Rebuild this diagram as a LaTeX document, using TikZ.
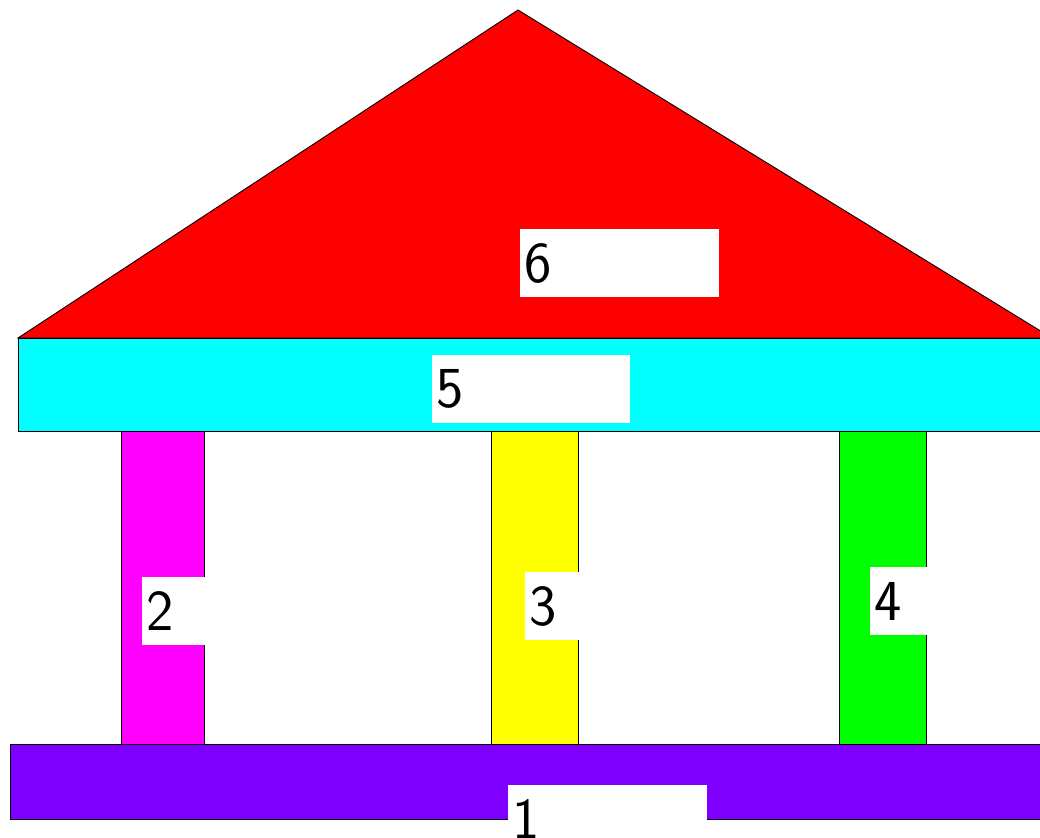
\documentclass[tikz,border=0pt]{standalone}
\usepackage{xcolor}
\usepackage{tikz}
\usetikzlibrary{positioning}
\definecolor{roofred}{RGB}{255,0,0}
\definecolor{friezecyan}{RGB}{0,255,255}
\definecolor{colmagenta}{RGB}{255,0,255}
\definecolor{colyellow}{RGB}{255,255,0}
\definecolor{colgreen}{RGB}{0,255,0}
\definecolor{plinthviolet}{RGB}{128,0,255}
\tikzstyle{part} = [draw=black, line width=0.9pt, line join=miter]
\tikzstyle{tag} = [fill=white, anchor=north west, inner xsep=4pt, inner ysep=0pt, minimum height=68pt, align=left, font=\fontsize{58}{58}\selectfont\sffamily]

\begin{document}
\begin{tikzpicture}[x=1pt, y=-1pt]
    \useasboundingbox (0,0) rectangle (1040,837);
    \clip (0,0) rectangle (1040,837);
    % roof and frieze
    \draw[part, fill=roofred] (18,338) -- (518,10) -- (1052,338) -- cycle;
    \draw[part, fill=friezecyan] (18,338) rectangle (1060,431);
    % columns
    \draw[part, fill=colmagenta] (121,431) rectangle (204,744);
    \draw[part, fill=colyellow] (491,431) rectangle (578,744);
    \draw[part, fill=colgreen] (839,431) rectangle (926,744);
    % base
    \draw[part, fill=plinthviolet] (10,744) rectangle (1060,819);

    \node (t6) [tag, text width=191pt] at (520,229) {6};
    \node (t5) [tag, text width=190pt] at (432,355) {5};
    \node (t2) [tag, text width=56pt] at (142,577) {2};
    \node (t3) [tag, text width=47pt] at (525,572) {3};
    \node (t4) [tag, text width=50pt] at (870,567) {4};
    \node (t1) [tag, text width=191pt] at (508,785) {1};
\end{tikzpicture}
\end{document}
